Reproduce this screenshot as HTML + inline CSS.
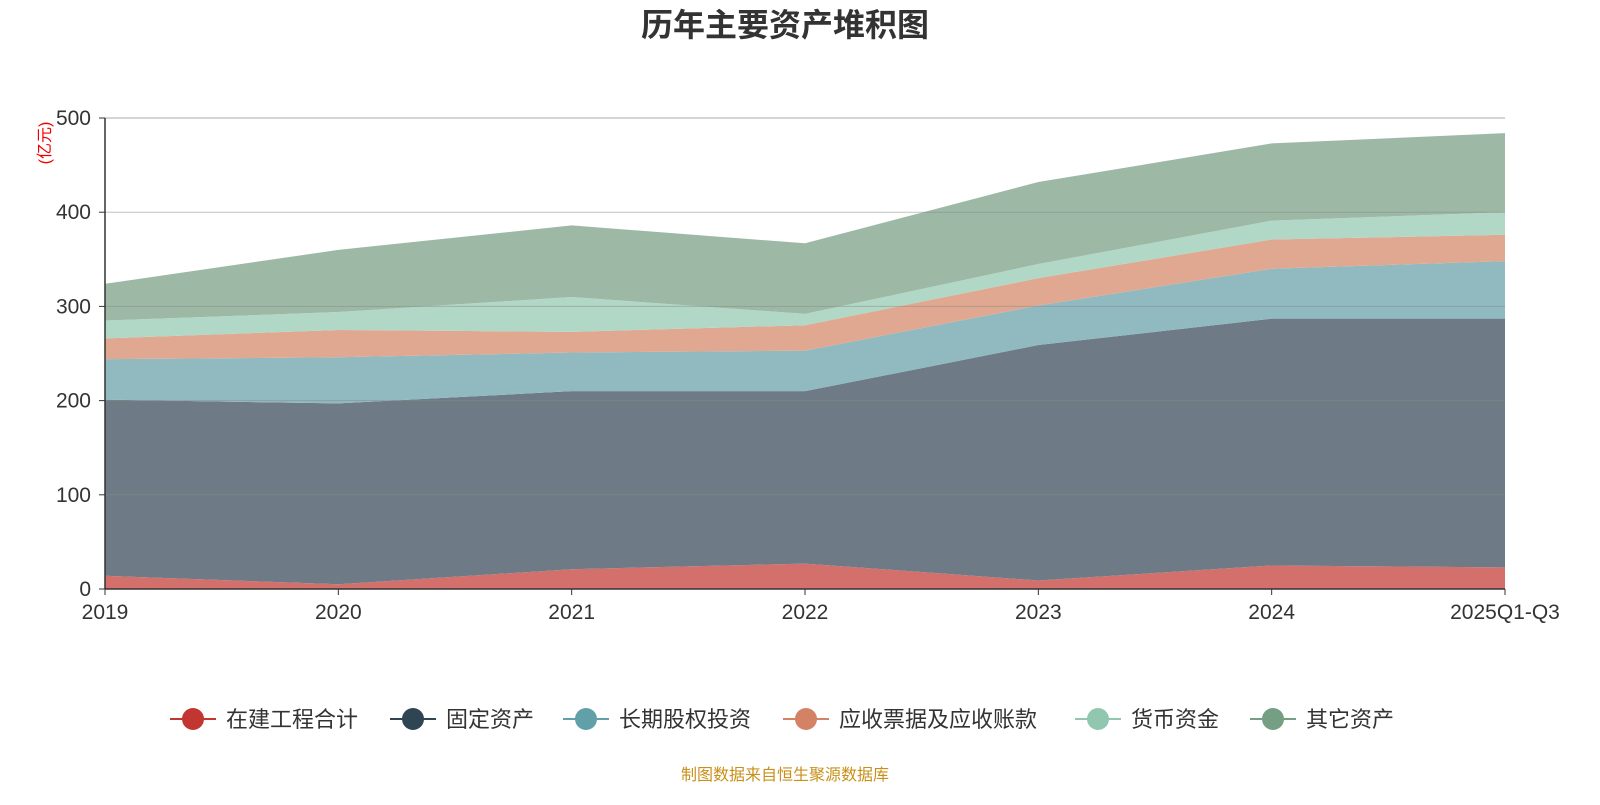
<!DOCTYPE html>
<html><head><meta charset="utf-8"><style>
body{margin:0;background:#fff;width:1600px;height:800px;overflow:hidden;font-family:"Liberation Sans","Noto Sans CJK SC",sans-serif}
</style></head><body>
<svg id="c" width="1600" height="800" xmlns="http://www.w3.org/2000/svg">
<text x="785" y="36" text-anchor="middle" font-size="32" font-weight="bold" fill="#333">历年主要资产堆积图</text>
<text transform="translate(50,143) rotate(-90)" text-anchor="middle" font-size="16" fill="#e00">(亿元)</text>
<g id="areas"></g><g id="grid"></g><g id="axes"></g><g id="legend"></g>
<text x="785" y="780" text-anchor="middle" font-size="16" fill="#c8901a">制图数据来自恒生聚源数据库</text>
</svg>
<script>
const categories=["2019","2020","2021","2022","2023","2024","2025Q1-Q3"];
const seriesNames=["在建工程合计","固定资产","长期股权投资","应收票据及应收账款","货币资金","其它资产"];
const s0=[14,5,21,27,9,25,23];
const s1=[187,192,189,183,250,262,264];
const s2=[43,49,41,43,42,53,61];
const s3=[22,29,22,27,29,31,28];
const s4=[19,19,37,12,15,20,24];
const s5=[39,66,76,75,87,82,84];
const yTicks=[0,100,200,300,400,500];
const series=[s0,s1,s2,s3,s4,s5];
const lineColors=["#c23531","#2f4554","#61a0a8","#d48265","#91c7ae","#749f83"];
const fillColors=["#d4706c","#6e7b86","#90bac0","#e0a891","#b1d8c6","#9db9a6"];
const X0=105,X1=1505,Y0=589,Y1=118,YMAX=500;
const xs=i=>X0+(X1-X0)*i/(categories.length-1);
const ys=v=>Y0-(Y0-Y1)*v/YMAX;
const NS="http://www.w3.org/2000/svg";
function mk(tag,attrs,parent){const e=document.createElementNS(NS,tag);for(const k in attrs)e.setAttribute(k,attrs[k]);parent.appendChild(e);return e;}
const grid=document.getElementById('grid'),areas=document.getElementById('areas'),axes=document.getElementById('axes'),legend=document.getElementById('legend');
yTicks.forEach(t=>{
 if(t>0){const l=mk('line',{x1:X0,x2:X1,y1:ys(t),y2:ys(t),stroke:t===500?'#aaa':'#888','stroke-opacity':t===500?1:0.5,'stroke-width':1},grid);
 
 }
 const tx=mk('text',{x:X0-14,y:ys(t)+7,'text-anchor':'end','font-size':21,fill:'#333'},axes);tx.textContent=t;
 
 
 const tk=mk('line',{x1:X0-6,x2:X0,y1:ys(t),y2:ys(t),stroke:'#333'},axes);
 
 
});
let base=categories.map(()=>0);
series.forEach((s,si)=>{
 const top=s.map((v,i)=>base[i]+v);
 let d='M'+top.map((v,i)=>xs(i)+','+ys(v)).join(' L');
 for(let i=categories.length-1;i>=0;i--)d+=' L'+xs(i)+','+ys(base[i]);
 d+='Z';
 const p=mk('path',{d:d,fill:fillColors[si],stroke:'none'},areas);
 
 
 base=top;
});
const ax=mk('line',{x1:X0,x2:X1,y1:Y0,y2:Y0,stroke:'#333','stroke-width':1.5},axes);


const ay=mk('line',{x1:X0,x2:X0,y1:Y1,y2:Y0,stroke:'#333','stroke-width':1.5},axes);


categories.forEach((c,i)=>{
 const tk=mk('line',{x1:xs(i),x2:xs(i),y1:Y0,y2:Y0+6,stroke:'#333'},axes);
 
 
 const t=mk('text',{x:xs(i),y:Y0+30,'text-anchor':'middle','font-size':21,fill:'#333'},axes);t.textContent=c;
 
 
});
const lx=[170,390,563,783,1075,1250];
seriesNames.forEach((n,i)=>{
 const g=mk('g',{},legend);
 
 
 mk('line',{x1:lx[i],x2:lx[i]+46,y1:719,y2:719,stroke:lineColors[i],'stroke-width':2},g);
 mk('circle',{cx:lx[i]+23,cy:719,r:11,fill:lineColors[i]},g);
 const t=mk('text',{x:lx[i]+56,y:727,'font-size':22,fill:'#333'},g);t.textContent=n;
});
</script>
</body></html>
